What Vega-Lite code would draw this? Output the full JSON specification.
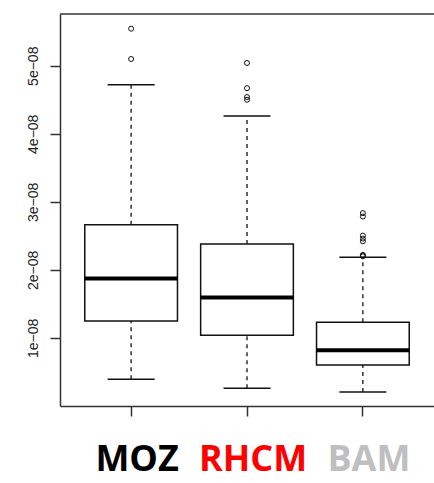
{
  "$schema": "https://vega.github.io/schema/vega-lite/v6.json",
  "width": 374,
  "height": 392,
  "autosize": {"type": "none"},
  "padding": {"left": 60, "top": 14, "right": 0, "bottom": 77},
  "background": "white",
  "config": {"view": {"stroke": null}, "font": "Liberation Sans"},
  "datasets": {
    "boxes": [
      {"group": "MOZ", "lo": 0.393e-8, "q1": 1.25e-8, "median": 1.872e-8, "q3": 2.662e-8, "hi": 4.72e-8},
      {"group": "RHCM", "lo": 0.26e-8, "q1": 1.039e-8, "median": 1.593e-8, "q3": 2.382e-8, "hi": 4.26e-8},
      {"group": "BAM", "lo": 0.206e-8, "q1": 0.603e-8, "median": 0.819e-8, "q3": 1.231e-8, "hi": 2.187e-8}
    ],
    "outliers": [
      {"group": "MOZ", "value": 5.544e-8},
      {"group": "MOZ", "value": 5.099e-8},
      {"group": "RHCM", "value": 5.04e-8},
      {"group": "RHCM", "value": 4.67e-8},
      {"group": "RHCM", "value": 4.54e-8},
      {"group": "RHCM", "value": 4.5e-8},
      {"group": "BAM", "value": 2.834e-8},
      {"group": "BAM", "value": 2.784e-8},
      {"group": "BAM", "value": 2.504e-8},
      {"group": "BAM", "value": 2.46e-8},
      {"group": "BAM", "value": 2.42e-8},
      {"group": "BAM", "value": 2.22e-8},
      {"group": "BAM", "value": 2.21e-8},
      {"group": "BAM", "value": 2.2e-8}
    ]
  },
  "layer": [
    {
      "data": {"name": "boxes"},
      "mark": {"type": "rule", "color": "#111", "strokeWidth": 1.3, "strokeDash": [4, 4]},
      "encoding": {
        "x": {"field": "group", "type": "nominal", "sort": ["MOZ", "RHCM", "BAM"],
          "scale": {"domain": ["MOZ", "RHCM", "BAM"], "paddingInner": 0.2, "paddingOuter": 0.2137},
          "axis": {"orient": "bottom", "title": null, "tickSize": 10, "tickWidth": 1.5, "tickColor": "#333",
            "domainColor": "#333", "domainWidth": 1.5, "labelPadding": 54, "labelBaseline": "alphabetic",
            "labelFont": "Open Sans", "labelFontSize": 36, "labelFontWeight": "bold", "labelOffset": 6,
            "labelAngle": 0, "labelOverlap": false, "labelBound": false, "labelFlush": false,
            "labelColor": {"condition": [{"test": "datum.value === 'RHCM'", "value": "#ff0000"}, {"test": "datum.value === 'BAM'", "value": "#bfbfbf"}], "value": "#000000"}}},
        "y": {"field": "lo", "type": "quantitative",
          "scale": {"domain": [0, 5.76e-8], "nice": false, "zero": false},
          "axis": {"orient": "left", "title": null, "grid": false, "values": [1e-8, 2e-8, 3e-8, 4e-8, 5e-8],
            "labelExpr": "format(datum.value*1e8,'d') + 'e\u221208'", "labelAngle": 270, "labelAlign": "center",
            "labelBaseline": "alphabetic", "labelPadding": 13, "tickSize": 10, "tickWidth": 1.5, "tickColor": "#333",
            "domainColor": "#333", "domainWidth": 1.5, "labelFont": "Liberation Sans", "labelFontSize": 14,
            "labelColor": "#222", "labelOverlap": false, "labelFlush": false}},
        "y2": {"field": "q1"}
      }
    },
    {
      "data": {"name": "boxes"},
      "mark": {"type": "rule", "color": "#111", "strokeWidth": 1.3, "strokeDash": [4, 4]},
      "encoding": {
        "x": {"field": "group", "type": "nominal", "sort": ["MOZ", "RHCM", "BAM"]},
        "y": {"field": "q3", "type": "quantitative"},
        "y2": {"field": "hi"}
      }
    },
    {
      "data": {"name": "boxes"},
      "mark": {"type": "tick", "orient": "horizontal", "size": 47, "thickness": 1.5, "color": "#111", "opacity": 1},
      "encoding": {
        "x": {"field": "group", "type": "nominal", "sort": ["MOZ", "RHCM", "BAM"]},
        "y": {"field": "lo", "type": "quantitative"}
      }
    },
    {
      "data": {"name": "boxes"},
      "mark": {"type": "tick", "orient": "horizontal", "size": 47, "thickness": 1.5, "color": "#111", "opacity": 1},
      "encoding": {
        "x": {"field": "group", "type": "nominal", "sort": ["MOZ", "RHCM", "BAM"]},
        "y": {"field": "hi", "type": "quantitative"}
      }
    },
    {
      "data": {"name": "boxes"},
      "mark": {"type": "bar", "fill": "white", "stroke": "#111", "strokeWidth": 1.5},
      "encoding": {
        "x": {"field": "group", "type": "nominal", "sort": ["MOZ", "RHCM", "BAM"]},
        "y": {"field": "q1", "type": "quantitative"},
        "y2": {"field": "q3"}
      }
    },
    {
      "data": {"name": "boxes"},
      "mark": {"type": "tick", "orient": "horizontal", "size": 93, "thickness": 4, "color": "#000", "opacity": 1},
      "encoding": {
        "x": {"field": "group", "type": "nominal", "sort": ["MOZ", "RHCM", "BAM"]},
        "y": {"field": "median", "type": "quantitative"}
      }
    },
    {
      "data": {"name": "outliers"},
      "mark": {"type": "point", "shape": "circle", "filled": false, "size": 25, "stroke": "#111", "strokeWidth": 1, "opacity": 1},
      "encoding": {
        "x": {"field": "group", "type": "nominal", "sort": ["MOZ", "RHCM", "BAM"]},
        "y": {"field": "value", "type": "quantitative"}
      }
    },
    {
      "data": {"values": [{}]},
      "mark": {"type": "rule", "color": "#333", "strokeWidth": 1.5},
      "encoding": {
        "y": {"datum": 5.76e-8, "type": "quantitative"}
      }
    }
  ]
}
